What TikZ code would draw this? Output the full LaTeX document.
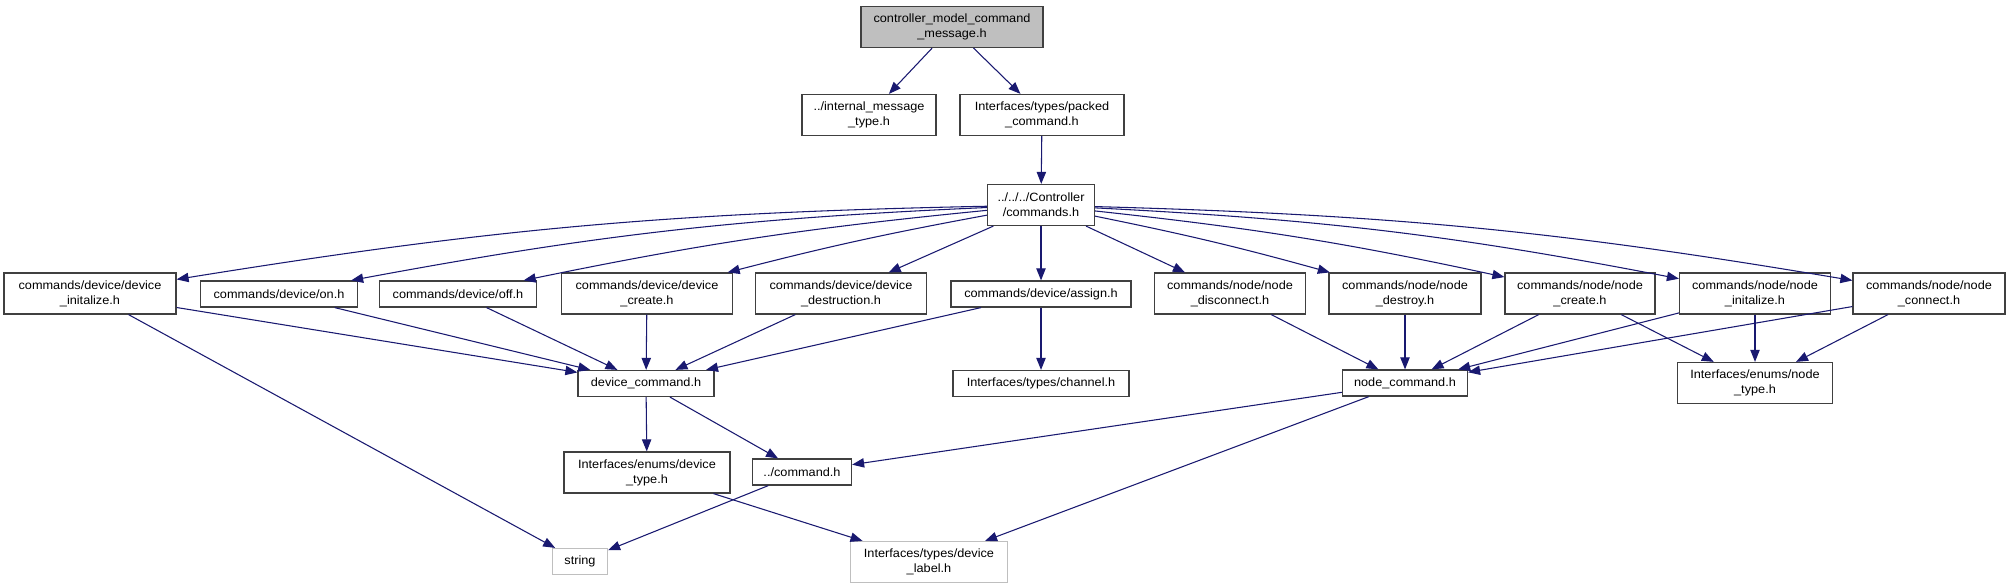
\documentclass[tikz,border=0pt]{standalone}
\usepackage{fontspec}
\setmainfont{Liberation Sans}[FakeStretch=1.06]
\usetikzlibrary{arrows.meta}
\definecolor{edgec}{RGB}{25,25,112}
\definecolor{graybox}{RGB}{191,191,191}
\definecolor{boxline}{RGB}{64,64,64}
\begin{document}
\begin{tikzpicture}[x=0.75pt,y=-0.75pt,
  box/.style={draw=boxline, line width=0.9pt, fill=white, inner sep=0pt, align=center,
    font=\fontsize{9}{11.2}\selectfont, minimum width=#1*0.75pt},
  two/.style={minimum height=30.75pt},
  one/.style={minimum height=19.5pt},
  ext/.style={draw=graybox},
  edge/.style={draw=edgec, line width=0.8pt, -{Triangle[length=9pt,width=7pt]}, fill=none}
]
\useasboundingbox (0,0) rectangle (2010,588);

% row 1-2
\node[box=182, two, fill=graybox] (root) at (952,27) {controller\_model\_command\\\_message.h};
\node[box=134, two] (imt) at (869,115) {../internal\_message\\\_type.h};
\node[box=164, two] (pkd) at (1042,115) {Interfaces/types/packed\\\_command.h};
\node[box=107, two] (cmd) at (1041,205) {../../../Controller\\/commands.h};

% row 3
\node[box=172, two] (di) at (90,293.5) {commands/device/device\\\_initalize.h};
\node[box=157, one] (on) at (279,294) {commands/device/on.h};
\node[box=157, one] (off) at (458,294) {commands/device/off.h};
\node[box=171, two] (dc) at (647,293.5) {commands/device/device\\\_create.h};
\node[box=171, two] (dd) at (841,293.5) {commands/device/device\\\_destruction.h};
\node[box=180, one] (asg) at (1041,294) {commands/device/assign.h};
\node[box=151, two] (nd) at (1230,293.5) {commands/node/node\\\_disconnect.h};
\node[box=152, two] (ndy) at (1405,293.5) {commands/node/node\\\_destroy.h};
\node[box=150, two] (ncr) at (1580,293.5) {commands/node/node\\\_create.h};
\node[box=151, two] (ni) at (1755,293.5) {commands/node/node\\\_initalize.h};
\node[box=152, two] (ncn) at (1929,293.5) {commands/node/node\\\_connect.h};

% row 4
\node[box=136, one] (dcmd) at (646,383.5) {device\_command.h};
\node[box=176, one] (chn) at (1041,383.5) {Interfaces/types/channel.h};
\node[box=125, one] (ncmd) at (1405,383) {node\_command.h};
\node[box=155, two] (ntype) at (1755,383) {Interfaces/enums/node\\\_type.h};

% row 5-6
\node[box=166, two] (dtype) at (647,472.5) {Interfaces/enums/device\\\_type.h};
\node[box=99, one] (cmdh) at (802,472) {../command.h};
\node[box=55, one, ext] (str) at (580,561.5) {string};
\node[box=157, two, ext] (dlab) at (929,562) {Interfaces/types/device\\\_label.h};

% edges
\draw[edge] (root) -- (imt);
\draw[edge] (root) -- (pkd);
\draw[edge] (pkd) -- (cmd);

\draw[edge] (cmd) to[bend right=4] (di);
\draw[edge] (cmd) to[bend right=4] (on);
\draw[edge] (cmd) to[bend right=3] (off);
\draw[edge] (cmd) to[bend right=2] (dc);
\draw[edge] (cmd) -- (dd);
\draw[edge] (cmd) -- (asg);
\draw[edge] (cmd) -- (nd);
\draw[edge] (cmd) to[bend left=2] (ndy);
\draw[edge] (cmd) to[bend left=3] (ncr);
\draw[edge] (cmd) to[bend left=4] (ni);
\draw[edge] (cmd) to[bend left=4] (ncn);

\draw[edge] (di) -- (dcmd);
\draw[edge] (di) -- (str);
\draw[edge] (on) -- (dcmd);
\draw[edge] (off) -- (dcmd);
\draw[edge] (dc) -- (dcmd);
\draw[edge] (dd) -- (dcmd);
\draw[edge] (asg) -- (dcmd);
\draw[edge] (asg) -- (chn);
\draw[edge] (nd) -- (ncmd);
\draw[edge] (ndy) -- (ncmd);
\draw[edge] (ncr) -- (ncmd);
\draw[edge] (ncr) -- (ntype);
\draw[edge] (ni) -- (ncmd);
\draw[edge] (ni) -- (ntype);
\draw[edge] (ncn) -- (ncmd);
\draw[edge] (ncn) -- (ntype);

\draw[edge] (dcmd) -- (dtype);
\draw[edge] (dcmd) -- (cmdh);
\draw[edge] (ncmd) -- (cmdh);
\draw[edge] (ncmd) -- (dlab);
\draw[edge] (dtype) -- (dlab);
\draw[edge] (cmdh) -- (str);
\end{tikzpicture}
\end{document}
